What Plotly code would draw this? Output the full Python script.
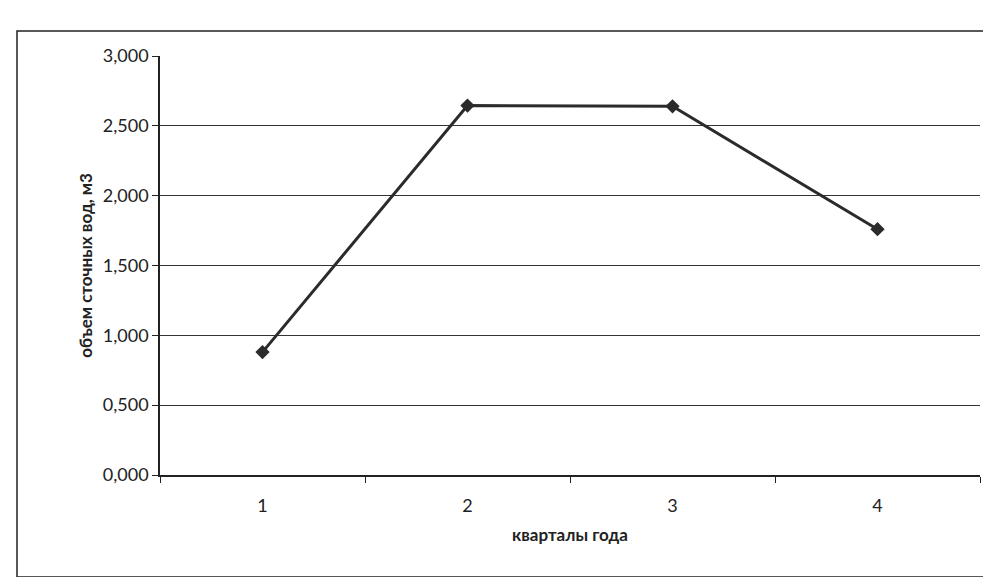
import plotly.graph_objects as go

quarters = ["1", "2", "3", "4"]
volumes = [0.88, 2.645, 2.64, 1.76]
y_ticks = [0, 0.5, 1.0, 1.5, 2.0, 2.5, 3.0]

fig = go.Figure()
fig.add_trace(go.Scatter(
    x=quarters, y=volumes, mode="lines+markers",
    line=dict(color="#2b2b2b", width=3),
    marker=dict(symbol="diamond", size=11, color="#2b2b2b"),
    showlegend=False,
))

fig.update_layout(
    width=991, height=577,
    paper_bgcolor="white", plot_bgcolor="white",
    margin=dict(l=152, r=19, t=48, b=110),
    separators=", ",
    font=dict(family="Lato, Open Sans, sans-serif", size=18, color="#222"),
    xaxis=dict(
        type="category", range=[-0.5, 3.5],
        showline=True, linecolor="#222", linewidth=1.5,
        ticks="outside", tickson="boundaries", ticklen=6, tickcolor="#222",
        ticklabelstandoff=14,
        showgrid=False,
        title=dict(text="<b>кварталы года</b>", font=dict(size=17), standoff=14),
    ),
    yaxis=dict(
        range=[0, 3.0], tickvals=y_ticks, tickformat=".3f",
        showline=True, linecolor="#222", linewidth=1.5,
        ticks="outside", ticklen=6, tickcolor="#222",
        showgrid=True, gridcolor="#333", gridwidth=1.2,
        zeroline=False,
        title=dict(text="<b>объем сточных вод, м3</b>", font=dict(size=17), standoff=6),
    ),
    shapes=[dict(type="rect", xref="paper", yref="paper",
                 x0=-143/820, x1=1+13/820, y0=-102/419, y1=1+25/419,
                 line=dict(color="#222", width=1.5))],
)

fig.write_html("out.html")
